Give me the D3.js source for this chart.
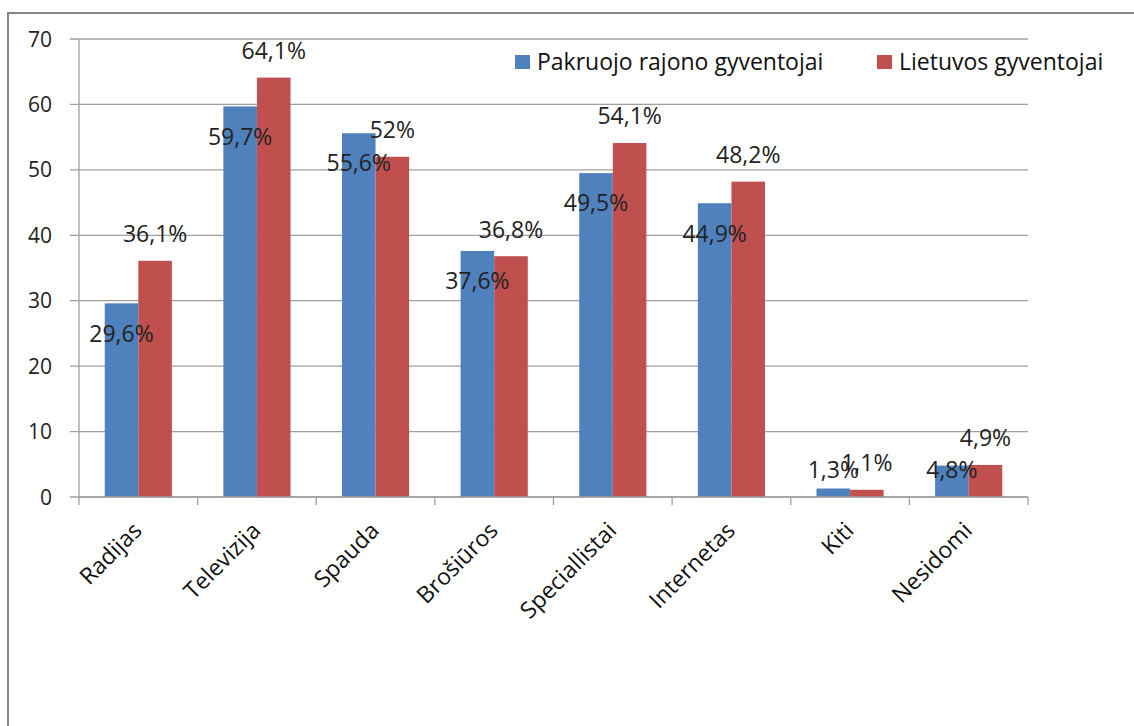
<!DOCTYPE html>
<html>
<head>
<meta charset="utf-8">
<script src="https://cdn.jsdelivr.net/npm/d3@7"></script>
<style>
  body { margin: 0; background: #fff; }
</style>
</head>
<body>
<div id="chart"></div>
<script>
// data
var categories = ["Radijas", "Televizija", "Spauda", "Brošiūros", "Speciallistai", "Internetas", "Kiti", "Nesidomi"];
var pakruojo = [29.6, 59.7, 55.6, 37.6, 49.5, 44.9, 1.3, 4.8];
var lietuvos = [36.1, 64.1, 52, 36.8, 54.1, 48.2, 1.1, 4.9];
var pakruojoLabels = ["29,6%", "59,7%", "55,6%", "37,6%", "49,5%", "44,9%", "1,3%", "4,8%"];
var lietuvosLabels = ["36,1%", "64,1%", "52%", "36,8%", "54,1%", "48,2%", "1,1%", "4,9%"];
var seriesNames = ["Pakruojo rajono gyventojai", "Lietuvos gyventojai"];
var seriesColors = ["#4F81BD", "#C0504D"];
var yTicks = [0, 10, 20, 30, 40, 50, 60, 70];

var width = 1134, height = 726;
var plotLeft = 79, plotRight = 1028, plotTop = 39, plotBottom = 497;

var svg = d3.select("#chart").append("svg")
    .attr("width", width)
    .attr("height", height);

// outer chart border
svg.append("rect")
    .attr("x", 8).attr("y", 13)
    .attr("width", 1140).attr("height", 730)
    .attr("fill", "none")
    .attr("stroke", "#868686")
    .attr("stroke-width", 2);

var x = d3.scaleBand().domain(categories).range([plotLeft, plotRight]).paddingInner(0).paddingOuter(0);
var y = d3.scaleLinear().domain([0, 70]).range([plotBottom, plotTop]);
var barW = x.bandwidth() * 0.283;
var groupOff = (x.bandwidth() - 2 * barW) / 2;

// gridlines
svg.append("g").selectAll("line")
    .data(yTicks)
    .enter().append("line")
    .attr("x1", plotLeft - 9).attr("x2", plotRight)
    .attr("y1", d => y(d)).attr("y2", d => y(d))
    .attr("stroke", "#a0a0a0")
    .attr("stroke-width", 1.3);

// y axis labels
svg.append("g").selectAll("text")
    .data(yTicks)
    .enter().append("text")
    .attr("x", 52)
    .attr("y", d => y(d))
    .attr("dy", "0.36em")
    .attr("text-anchor", "end")
    .attr("font-family", "Open Sans")
    .attr("font-size", 21)
    .attr("fill", "#222")
    .text(d => d);

// bars
var bars = svg.append("g");
[pakruojo, lietuvos].forEach(function(vals, s) {
    bars.selectAll(".s" + s)
        .data(vals)
        .enter().append("rect")
        .attr("class", "s" + s)
        .attr("x", (d, i) => x(categories[i]) + groupOff + s * barW)
        .attr("y", d => y(d))
        .attr("width", barW)
        .attr("height", d => plotBottom - y(d))
        .attr("fill", seriesColors[s]);
});

// axes lines
svg.append("line")
    .attr("x1", plotLeft).attr("x2", plotLeft)
    .attr("y1", plotTop).attr("y2", plotBottom)
    .attr("stroke", "#a0a0a0").attr("stroke-width", 1.3);
svg.append("line")
    .attr("x1", plotLeft).attr("x2", plotRight)
    .attr("y1", plotBottom).attr("y2", plotBottom)
    .attr("stroke", "#a0a0a0").attr("stroke-width", 1.3);

// x ticks at category boundaries
var bounds = categories.map(c => x(c)).concat([plotRight]);
svg.append("g").selectAll("line")
    .data(bounds)
    .enter().append("line")
    .attr("x1", d => d).attr("x2", d => d)
    .attr("y1", plotBottom).attr("y2", plotBottom + 8)
    .attr("stroke", "#a0a0a0").attr("stroke-width", 1.3);

// category labels
svg.append("g").selectAll("text")
    .data(categories)
    .enter().append("text")
    .attr("transform", d => "translate(" + (x(d) + x.bandwidth() / 2 + 5) + "," + (plotBottom + 35) + ") rotate(-45)")
    .attr("text-anchor", "end")
    .attr("font-family", "Open Sans")
    .attr("font-size", 23)
    .attr("fill", "#111")
    .text(d => d);

// data labels
svg.append("g").selectAll("text")
    .data(pakruojo)
    .enter().append("text")
    .attr("x", (d, i) => x(categories[i]) + groupOff + barW / 2)
    .attr("y", d => Math.min(y(d) + 30, plotBottom - 27))
    .attr("dy", "0.36em")
    .attr("text-anchor", "middle")
    .attr("font-family", "Open Sans")
    .attr("font-size", 23)
    .attr("fill", "#222")
    .text((d, i) => pakruojoLabels[i]);

svg.append("g").selectAll("text")
    .data(lietuvos)
    .enter().append("text")
    .attr("x", (d, i) => x(categories[i]) + groupOff + barW * 1.5)
    .attr("y", d => y(d) - 27)
    .attr("dy", "0.36em")
    .attr("text-anchor", "middle")
    .attr("font-family", "Open Sans")
    .attr("font-size", 23)
    .attr("fill", "#222")
    .text((d, i) => lietuvosLabels[i]);

// legend
var legendX = [515, 877];
var legend = svg.append("g");
seriesNames.forEach(function(name, s) {
    legend.append("rect")
        .attr("x", legendX[s]).attr("y", 55)
        .attr("width", 15).attr("height", 14)
        .attr("fill", seriesColors[s]);
    legend.append("text")
        .attr("x", legendX[s] + 22).attr("y", 62)
        .attr("dy", "0.36em")
        .attr("font-family", "Open Sans")
        .attr("font-size", 23)
        .attr("fill", "#111")
        .text(name);
});
</script>
</body>
</html>
